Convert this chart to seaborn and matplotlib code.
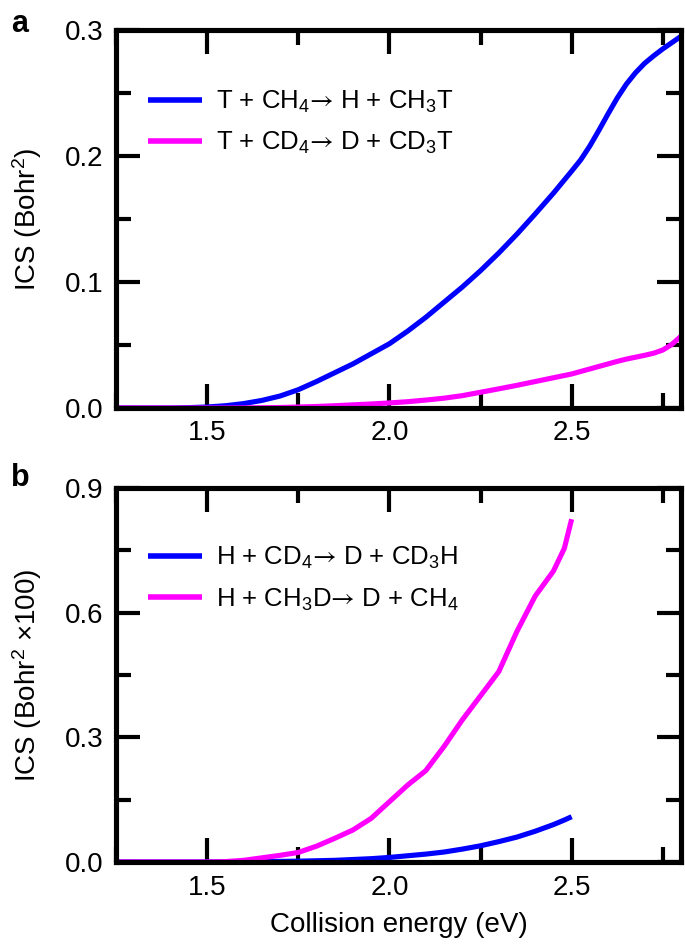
import numpy as np
import pandas as pd
import matplotlib
matplotlib.use("Agg")
import matplotlib.pyplot as plt
from matplotlib.ticker import MultipleLocator
import seaborn as sns

# ---------------- data ----------------
# Panel a
energy_a = [1.25, 1.30, 1.35, 1.40, 1.45, 1.50, 1.55, 1.60, 1.65, 1.70, 1.75, 1.80,
            1.85, 1.90, 1.95, 2.00, 2.05, 2.10, 2.15, 2.20, 2.25, 2.30, 2.35, 2.40,
            2.45, 2.50, 2.525, 2.55, 2.575, 2.60, 2.625, 2.65, 2.675, 2.70, 2.725,
            2.75, 2.775, 2.80]
ics_T_CH4 = [0.0, 0.0, 0.0, 0.0, 0.0003, 0.0008, 0.0018, 0.0035, 0.0060, 0.0095, 0.0145, 0.0210,
             0.0280, 0.0350, 0.0430, 0.0510, 0.0610, 0.0720, 0.0840, 0.0960, 0.1090, 0.1230, 0.1380, 0.1540,
             0.1705, 0.1880, 0.1970, 0.2080, 0.2205, 0.2335, 0.2460, 0.2570, 0.2660, 0.2735, 0.2795,
             0.2850, 0.2900, 0.2950]
ics_T_CD4 = [0.0, 0.0, 0.0, 0.0, 0.0, 0.0, 0.0, 0.0001, 0.0002, 0.0004, 0.0008, 0.0012,
             0.0018, 0.0025, 0.0032, 0.0040, 0.0050, 0.0063, 0.0078, 0.0098, 0.0125, 0.0152, 0.0180, 0.0210,
             0.0240, 0.0270, 0.0290, 0.0310, 0.0330, 0.0350, 0.0370, 0.0388, 0.0403, 0.0418, 0.0435,
             0.0460, 0.0505, 0.0570]

# Panel b (x100)
energy_b = [1.25, 1.30, 1.35, 1.40, 1.45, 1.50, 1.55, 1.60, 1.65, 1.70, 1.75, 1.80,
            1.85, 1.90, 1.95, 2.00, 2.05, 2.10, 2.15, 2.20, 2.25, 2.30, 2.35, 2.40,
            2.45, 2.48, 2.50]
ics_H_CD4 = [0.0, 0.0, 0.0, 0.0, 0.0, 0.0, 0.0, 0.0005, 0.001, 0.0015, 0.002, 0.003,
             0.004, 0.006, 0.008, 0.011, 0.015, 0.019, 0.024, 0.031, 0.039, 0.049, 0.060, 0.074,
             0.090, 0.101, 0.109]
ics_H_CH3D = [0.0, 0.0, 0.0, 0.0, 0.0, 0.0, 0.001, 0.004, 0.010, 0.016, 0.023, 0.038,
              0.057, 0.077, 0.105, 0.145, 0.185, 0.220, 0.278, 0.342, 0.400, 0.458, 0.555, 0.640,
              0.700, 0.755, 0.825]

ARROW = r"$\mathsf{→}$"
labels_a = [r"T + CH$_4$" + ARROW + " H + CH$_3$T", r"T + CD$_4$" + ARROW + " D + CD$_3$T"]
labels_b = [r"H + CD$_4$" + ARROW + " D + CD$_3$H", r"H + CH$_3$D" + ARROW + " D + CH$_4$"]
colors = ["#0000ff", "#ff00ff"]

xticks = [1.5, 2.0, 2.5]
xtick_labels = ["1.5", "2.0", "2.5"]
yticks_a = [0.0, 0.1, 0.2, 0.3]
yticks_b = [0.0, 0.3, 0.6, 0.9]

df_a = pd.concat([
    pd.DataFrame({"E": energy_a, "ICS": ics_T_CH4, "reaction": labels_a[0]}),
    pd.DataFrame({"E": energy_a, "ICS": ics_T_CD4, "reaction": labels_a[1]}),
], ignore_index=True)
df_b = pd.concat([
    pd.DataFrame({"E": energy_b, "ICS": ics_H_CD4, "reaction": labels_b[0]}),
    pd.DataFrame({"E": energy_b, "ICS": ics_H_CH3D, "reaction": labels_b[1]}),
], ignore_index=True)

# ---------------- style ----------------
sns.set_style("ticks")
plt.rcParams["font.family"] = ["Liberation Sans", "DejaVu Sans"]
plt.rcParams["mathtext.fontset"] = "custom"
plt.rcParams["mathtext.rm"] = "Liberation Sans"
plt.rcParams["mathtext.it"] = "Liberation Sans"
plt.rcParams["mathtext.sf"] = "STIXGeneral"
plt.rcParams["mathtext.default"] = "regular"
for k in ["text.color", "axes.labelcolor", "xtick.color", "ytick.color", "axes.edgecolor"]:
    plt.rcParams[k] = "black"

FS = 20
LFS = 18.5
fig = plt.figure(figsize=(6.85, 9.46), dpi=100)
W, H = 685, 946
ax_a = fig.add_axes([116 / W, 1 - 408 / H, 565 / W, 378 / H])
ax_b = fig.add_axes([116 / W, 1 - 862 / H, 565 / W, 374 / H])

for ax, df, lab, yt, ymax, minor_y, leg_y in [
    (ax_a, df_a, labels_a, yticks_a, 0.3, 0.05, 0.845),
    (ax_b, df_b, labels_b, yticks_b, 0.9, 0.15, 0.848),
]:
    sns.lineplot(data=df, x="E", y="ICS", hue="reaction", hue_order=lab,
                 palette=colors, linewidth=3.7, errorbar=None, ax=ax,
                 solid_capstyle="butt")
    ax.set_xlim(1.25, 2.8)
    ax.set_ylim(0, ymax)
    ax.set_xticks(xticks)
    ax.set_xticklabels(xtick_labels)
    ax.set_yticks(yt)
    ax.set_yticklabels([f"{v:.1f}" for v in yt])
    ax.xaxis.set_minor_locator(MultipleLocator(0.25))
    ax.yaxis.set_minor_locator(MultipleLocator(minor_y))
    ax.tick_params(which="both", direction="in", top=True, right=True,
                   labelsize=FS, width=3.0, color="black", labelcolor="black")
    ax.tick_params(which="major", length=17, pad=9)
    ax.tick_params(which="minor", length=10.5)
    for s in ax.spines.values():
        s.set_linewidth(3.7)
        s.set_color("black")
    ax.set_xlabel("")
    leg = ax.legend(loc="upper left", bbox_to_anchor=(0.057, leg_y), frameon=False,
                    fontsize=LFS, borderpad=0, borderaxespad=0, handlelength=2.1,
                    handletextpad=0.55, labelspacing=0.6, title=None)
    for line in leg.get_lines():
        line.set_linewidth(4)

ax_a.set_ylabel("ICS (Bohr$^2$)", fontsize=FS)
ax_b.set_ylabel("ICS (Bohr$^2$ ×100)", fontsize=FS)
ax_b.set_xlabel("Collision energy (eV)", fontsize=FS, labelpad=8)
ax_a.yaxis.set_label_coords(-0.128, 0.5)
ax_b.yaxis.set_label_coords(-0.128, 0.5)

fig.text(11 / W, 1 - 32 / H, "a", fontsize=22, fontweight="bold", va="baseline")
fig.text(11 / W, 1 - 486 / H, "b", fontsize=22, fontweight="bold", va="baseline")

fig.savefig("out.png", dpi=100)
